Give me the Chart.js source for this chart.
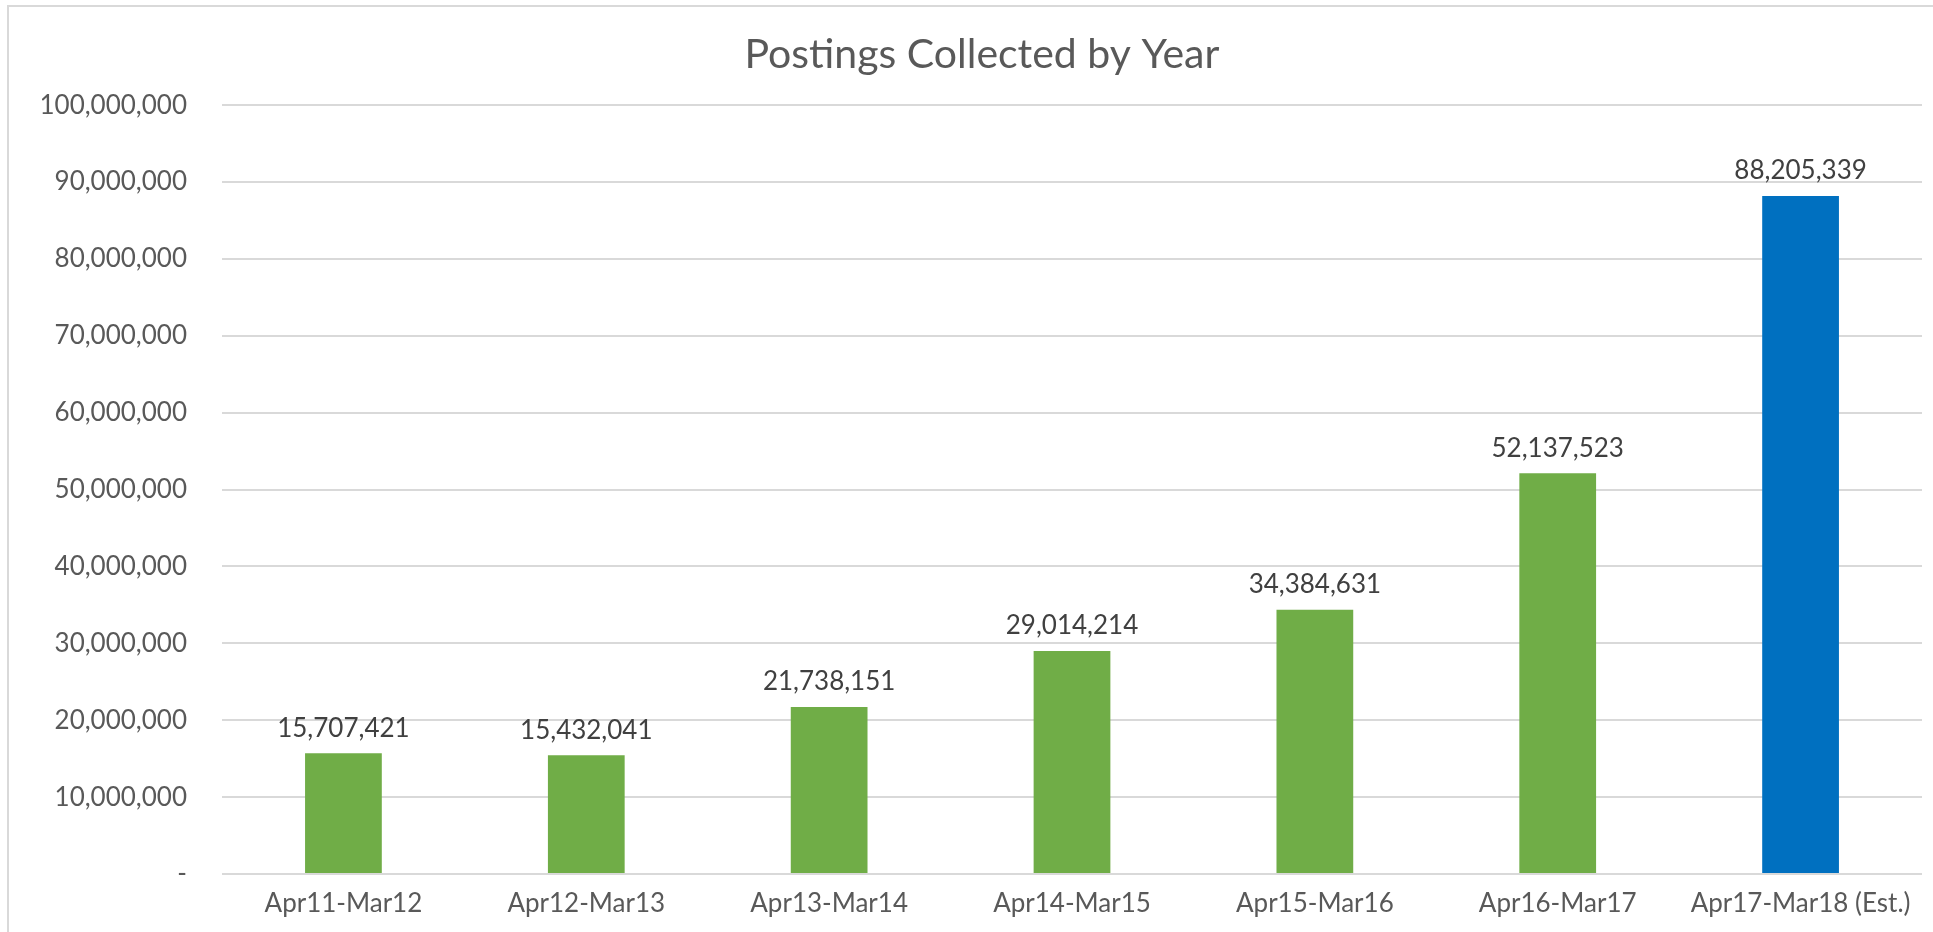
<!DOCTYPE html>
<html>
<head>
<meta charset="utf-8">
<script src="https://cdn.jsdelivr.net/npm/chart.js@4"></script>
<style>
  html, body { margin: 0; padding: 0; background: #fff; }
  canvas { display: block; }
</style>
</head>
<body>
<canvas id="postingsChart" width="1933" height="932"></canvas>
<script>
// data
const periods = ["Apr11-Mar12", "Apr12-Mar13", "Apr13-Mar14", "Apr14-Mar15", "Apr15-Mar16", "Apr16-Mar17", "Apr17-Mar18 (Est.)"];
const postings = [15707421, 15432041, 21738151, 29014214, 34384631, 52137523, 88205339];
const barColors = ["#70AD47", "#70AD47", "#70AD47", "#70AD47", "#70AD47", "#70AD47", "#0070C0"];
const yMax = 100000000;
const yStep = 10000000;

const FONT = "Lato, 'Open Sans', sans-serif";

// light frame on top and left, like the pasted excel chart
const framePlugin = {
  id: "frame",
  beforeDraw(chart) {
    const ctx = chart.ctx;
    ctx.save();
    ctx.strokeStyle = "#D9D9D9";
    ctx.lineWidth = 2;
    ctx.beginPath();
    ctx.moveTo(8, chart.height);
    ctx.lineTo(8, 6);
    ctx.lineTo(chart.width, 6);
    ctx.stroke();
    ctx.restore();
  }
};

// value labels above every bar
const valueLabels = {
  id: "valueLabels",
  afterDatasetsDraw(chart) {
    const ctx = chart.ctx;
    const meta = chart.getDatasetMeta(0);
    ctx.save();
    ctx.font = "26px " + FONT;
    ctx.fillStyle = "#404040";
    ctx.textAlign = "center";
    ctx.textBaseline = "bottom";
    meta.data.forEach((bar, i) => {
      ctx.fillText(postings[i].toLocaleString("en-US"), bar.x, bar.y - 12);
    });
    ctx.restore();
  }
};

new Chart(document.getElementById("postingsChart"), {
  type: "bar",
  data: {
    labels: periods,
    datasets: [{
      label: "Postings",
      data: postings,
      backgroundColor: barColors,
      categoryPercentage: 1,
      barPercentage: 0.316
    }]
  },
  options: {
    responsive: false,
    animation: false,
    layout: { padding: { left: 42, right: 11, top: 0, bottom: 0 } },
    plugins: {
      legend: { display: false },
      tooltip: { enabled: false },
      title: {
        display: true,
        text: "Postings Collected by Year",
        color: "#595959",
        font: { family: FONT, size: 41, weight: "normal" },
        padding: { top: 30, bottom: 26 }
      }
    },
    scales: {
      x: {
        grid: { display: false },
        border: { display: false },
        ticks: {
          color: "#595959",
          font: { family: FONT, size: 26 },
          padding: 6,
          maxRotation: 0
        },
        afterFit(scale) { scale.height = 58; }
      },
      y: {
        min: 0,
        max: yMax,
        grid: { color: "#D9D9D9", lineWidth: 2, drawTicks: false },
        border: { display: false },
        ticks: {
          stepSize: yStep,
          color: "#595959",
          font: { family: FONT, size: 26 },
          padding: 35,
          callback: (v) => v === 0 ? "-" : v.toLocaleString("en-US")
        },
        afterFit(scale) { scale.width = 180; }
      }
    }
  },
  plugins: [framePlugin, valueLabels]
});
</script>
</body>
</html>
